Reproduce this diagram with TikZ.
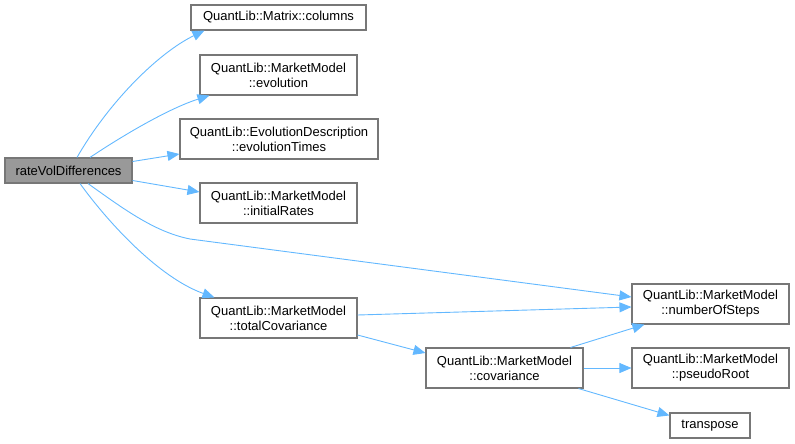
\documentclass[tikz,border=0pt]{standalone}
\usepackage{fontspec}
\setmainfont{Liberation Sans}
\usetikzlibrary{arrows.meta}
\definecolor{edgeblue}{HTML}{63B8FF}
\definecolor{boxborder}{HTML}{777777}
\definecolor{mainfill}{HTML}{999999}
\begin{document}
\begin{tikzpicture}[x=1pt,y=-1pt,
  box/.style={draw=boxborder, line width=1.1pt, fill=white, inner sep=0pt, align=center,
    font=\fontsize{13}{15}\selectfont},
  mainbox/.style={box, fill=mainfill},
  edge/.style={draw=edgeblue, line width=0.9pt, -{Triangle[length=12pt,width=10pt]}}]
\useasboundingbox (0,0) rectangle (795,444);
\node[mainbox, minimum width=127pt, minimum height=25pt] (rvd) at (68.5,170.5) {rateVolDifferences};
\node[box, minimum width=175pt, minimum height=25pt] (cols) at (278.5,17.5) {QuantLib::Matrix::columns};
\node[box, minimum width=157pt, minimum height=40pt] (evo) at (278.5,75) {QuantLib::MarketModel\\::evolution};
\node[box, minimum width=198pt, minimum height=40pt] (evt) at (279,139) {QuantLib::EvolutionDescription\\::evolutionTimes};
\node[box, minimum width=157pt, minimum height=40pt] (ini) at (278.5,203) {QuantLib::MarketModel\\::initialRates};
\node[box, minimum width=157pt, minimum height=40pt] (tot) at (278.5,318) {QuantLib::MarketModel\\::totalCovariance};
\node[box, minimum width=157pt, minimum height=40pt] (nos) at (710.5,304) {QuantLib::MarketModel\\::numberOfSteps};
\node[box, minimum width=157pt, minimum height=40pt] (cov) at (504.5,368) {QuantLib::MarketModel\\::covariance};
\node[box, minimum width=157pt, minimum height=40pt] (psr) at (710.5,368) {QuantLib::MarketModel\\::pseudoRoot};
\node[box, minimum width=80pt, minimum height=25pt] (trp) at (710,425.5) {transpose};

\draw[edge] ([xshift=8.5pt]rvd.north) .. controls (110,100) and (160,52) .. ([xshift=14pt]cols.south west);
\draw[edge] ([xshift=21.5pt]rvd.north) .. controls (125,134) and (170,108) .. ([xshift=10pt]evo.south west);
\draw[edge] ([yshift=9pt]rvd.east) -- ([yshift=-15pt]evt.west);
\draw[edge] ([yshift=-10pt]rvd.east) -- ([yshift=11pt]ini.west);
\draw[edge] ([xshift=19.5pt]rvd.south) .. controls (125,210) and (155,232) .. (190,239) -- ([yshift=7pt]nos.west);
\draw[edge] ([xshift=11.5pt]rvd.south) .. controls (110,225) and (160,278) .. ([xshift=15pt]tot.north west);
\draw[edge] ([yshift=3pt]tot.east) -- ([yshift=-3pt]nos.west);
\draw[edge] ([yshift=-17pt]tot.east) -- ([yshift=15pt]cov.west);
\draw[edge] ([xshift=-13pt]cov.north east) -- ([xshift=13pt]nos.south west);
\draw[edge] (cov.east) -- (psr.west);
\draw[edge] ([xshift=-5pt]cov.south east) -- ([yshift=-3pt]trp.north west);
\end{tikzpicture}
\end{document}
